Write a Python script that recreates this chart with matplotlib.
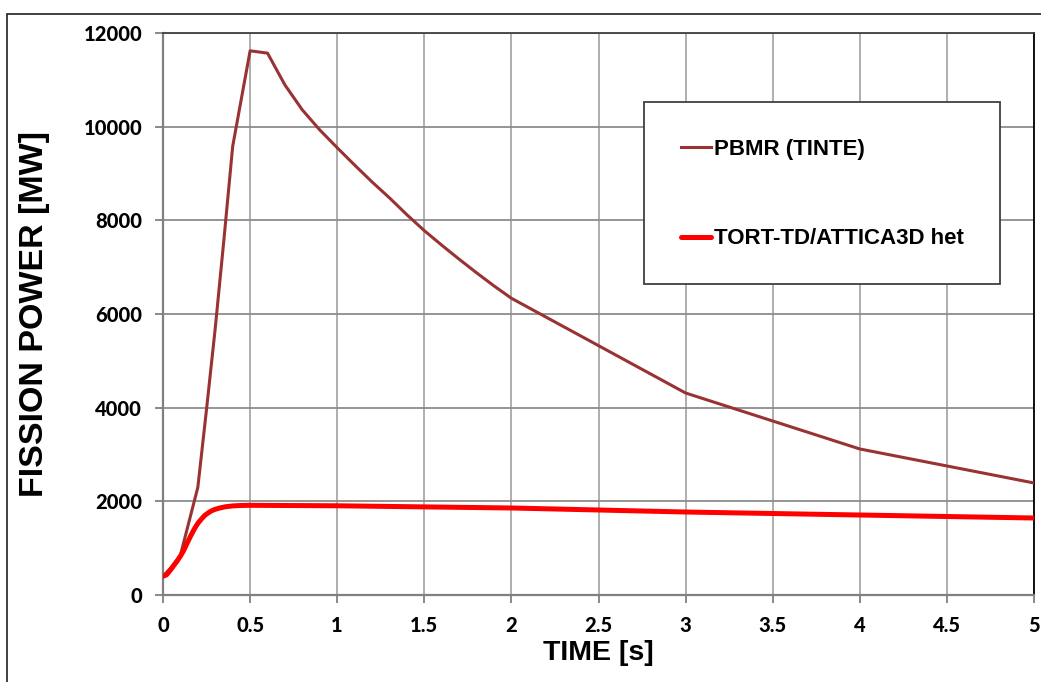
import numpy as np
import matplotlib
matplotlib.use("Agg")
import matplotlib.pyplot as plt
from matplotlib.patches import Rectangle

# PBMR (TINTE) curve
pbmr_t = [0, 0.05, 0.1, 0.2, 0.25, 0.3, 0.35, 0.4, 0.45, 0.5, 0.6, 0.7, 0.8, 0.9,
          1.0, 1.1, 1.2, 1.3, 1.4, 1.5, 1.6, 1.7, 1.8, 1.9, 2.0, 3.0, 4.0, 5.0]
pbmr_p = [400, 600, 850, 2300, 3970, 5700, 7600, 9580, 10600, 11620, 11570, 10890, 10357, 9930,
          9550, 9180, 8820, 8480, 8120, 7780, 7470, 7170, 6880, 6600, 6336, 4313, 3118, 2392]

# TORT-TD/ATTICA3D het curve
tort_t = [0, 0.02, 0.04, 0.06, 0.08, 0.1, 0.12, 0.14, 0.16, 0.18, 0.2, 0.22, 0.24, 0.26,
          0.28, 0.3, 0.33, 0.36, 0.4, 0.45, 0.5, 1.0, 2.0, 3.0, 4.0, 5.0]
tort_p = [400, 430, 520, 620, 720, 830, 960, 1120, 1270, 1410, 1530, 1620, 1700, 1755,
          1800, 1830, 1862, 1885, 1902, 1912, 1915, 1905, 1858, 1772, 1708, 1644]

x_ticks = [0, 0.5, 1, 1.5, 2, 2.5, 3, 3.5, 4, 4.5, 5]
x_tick_labels = ["0", "0.5", "1", "1.5", "2", "2.5", "3", "3.5", "4", "4.5", "5"]
y_ticks = [0, 2000, 4000, 6000, 8000, 10000, 12000]

fig = plt.figure(figsize=(10.41, 6.82), dpi=100)
ax = fig.add_axes([163 / 1041, 1 - 595 / 682, 871 / 1041, 562 / 682])

#%% outer frame
fig.patches.append(Rectangle((7 / 1041, -0.1), 1.2, 1 - 13.5 / 682 + 0.1,
                             transform=fig.transFigure, fill=False,
                             edgecolor="#202020", linewidth=1.2))

#%% lines
ax.plot(pbmr_t, pbmr_p, color="#993333", linewidth=2.2, label="PBMR (TINTE)", zorder=3)
ax.plot(tort_t, tort_p, color="#ff0000", linewidth=3.6, label="TORT-TD/ATTICA3D het",
        zorder=4, solid_capstyle="round", solid_joinstyle="round")

ax.set_xlim(0, 5)
ax.set_ylim(0, 12000)
ax.set_xticks(x_ticks)
ax.set_xticklabels(x_tick_labels)
ax.set_yticks(y_ticks)

ax.xaxis.grid(True, color="#a8a8a8", linewidth=1.3)
ax.yaxis.grid(True, color="#8c8c8c", linewidth=1.3)
ax.set_axisbelow(True)

for s in ["left", "bottom"]:
    ax.spines[s].set_color("#808080")
    ax.spines[s].set_linewidth(1.6)
ax.spines["top"].set_color("#404040")
ax.spines["top"].set_linewidth(1.3)
ax.spines["right"].set_color("#000000")
ax.spines["right"].set_linewidth(1.3)

ax.tick_params(axis="both", direction="out", length=6, width=1.3, color="#808080", pad=9)
for lab in ax.get_xticklabels() + ax.get_yticklabels():
    lab.set_fontfamily("Lato")
    lab.set_fontweight("black")
    lab.set_fontsize(14.5)

ax.set_xlabel("TIME [s]", fontfamily="Liberation Sans", fontweight="bold", fontsize=20.5, labelpad=4)
ax.set_ylabel("FISSION POWER [MW]", fontfamily="Liberation Sans", fontweight="bold", fontsize=24.5, labelpad=24)

#%% legend box
ax.add_patch(Rectangle(((644 - 163) / 871, (595 - 284) / 562), (1000 - 644) / 871, (284 - 102) / 562,
                       transform=ax.transAxes, fill=True, facecolor="white",
                       edgecolor="#404040", linewidth=1.3, zorder=5))
leg = ax.legend(loc="center left", bbox_to_anchor=((681 - 163) / 871, (595 - 194) / 562),
                frameon=False, borderpad=0, borderaxespad=0, handlelength=1.35,
                handletextpad=0.15, labelspacing=3.1,
                prop={"family": "Liberation Sans", "weight": "bold", "size": 16})
leg.set_zorder(6)

fig.savefig("out.png", dpi=100)
